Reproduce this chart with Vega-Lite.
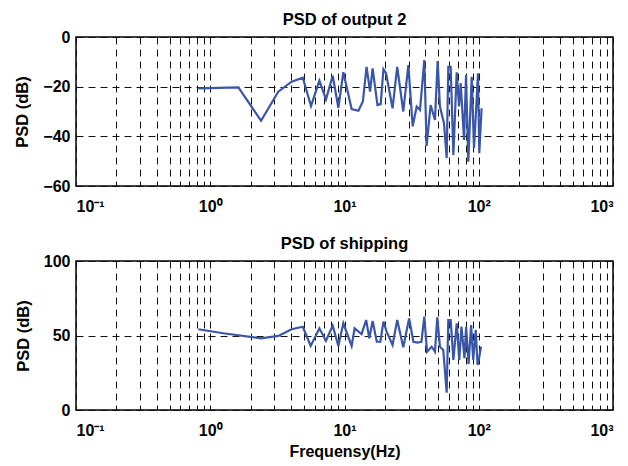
{
  "$schema": "https://vega.github.io/schema/vega-lite/v6.json",
  "padding": {"left": 14, "top": 10, "right": 5, "bottom": 5},
  "background": "white",
  "bounds": "flush",
  "spacing": 75,
  "config": {
    "font": "Liberation Sans",
    "view": {"stroke": "black", "strokeWidth": 1.5},
    "title": {"fontSize": 16.5, "fontWeight": "bold", "color": "black", "offset": 1},
    "axis": {
      "labelFont": "Liberation Sans", "labelFontWeight": "bold", "labelColor": "black",
      "titleFont": "Liberation Sans", "titleFontWeight": "bold", "titleColor": "black",
      "domain": false, "ticks": false,
      "grid": true, "gridColor": "#111", "gridDash": [7, 5], "gridWidth": 1, "gridOpacity": 1
    }
  },
  "datasets": {
    "out": [
      {"f": 0.815, "p": -20.7}, {"f": 1.62, "p": -20.3}, {"f": 2.39, "p": -33.7}, {"f": 3.21, "p": -22.0},
      {"f": 4.04, "p": -18.0}, {"f": 4.89, "p": -16.4}, {"f": 5.63, "p": -27.8}, {"f": 6.5, "p": -17.6},
      {"f": 7.28, "p": -25.1}, {"f": 8.17, "p": -15.6}, {"f": 9.0, "p": -28.5}, {"f": 9.8, "p": -14.2},
      {"f": 11.3, "p": -29.0}, {"f": 12.7, "p": -29.7}, {"f": 13.7, "p": -26}, {"f": 14.6, "p": -12},
      {"f": 15.5, "p": -22}, {"f": 16.2, "p": -12.6}, {"f": 17.6, "p": -27.4}, {"f": 18.6, "p": -27},
      {"f": 19.5, "p": -13}, {"f": 20.4, "p": -14.6}, {"f": 22.8, "p": -28.7}, {"f": 24.7, "p": -12},
      {"f": 27.4, "p": -30}, {"f": 29.9, "p": -11.3}, {"f": 32.2, "p": -36}, {"f": 34.5, "p": -28},
      {"f": 36.5, "p": -29.4}, {"f": 39.3, "p": -9.3}, {"f": 40.9, "p": -43.9}, {"f": 43.8, "p": -27.4},
      {"f": 47.2, "p": -33.4}, {"f": 49.4, "p": -9.7}, {"f": 51.4, "p": -28}, {"f": 55.1, "p": -34.8},
      {"f": 57.7, "p": -48.8}, {"f": 59.3, "p": -12}, {"f": 61.8, "p": -12}, {"f": 64.7, "p": -47.5},
      {"f": 68.5, "p": -14.2}, {"f": 71.3, "p": -28}, {"f": 73.4, "p": -18.6}, {"f": 77.7, "p": -41.5},
      {"f": 80.4, "p": -15.3}, {"f": 83.6, "p": -50.2}, {"f": 88.6, "p": -16}, {"f": 92.2, "p": -44.8},
      {"f": 95.5, "p": -29.4}, {"f": 98.7, "p": -14.6}, {"f": 100.9, "p": -46.8}, {"f": 105, "p": -28.7}
    ],
    "ship": [
      {"f": 0.815, "p": 54.2}, {"f": 1.25, "p": 51.5}, {"f": 2.39, "p": 48.1}, {"f": 3.21, "p": 49.7},
      {"f": 4.04, "p": 54.2}, {"f": 4.89, "p": 55.9}, {"f": 5.6, "p": 43}, {"f": 6.5, "p": 54.8},
      {"f": 7.28, "p": 46.5}, {"f": 8.17, "p": 56.6}, {"f": 9.0, "p": 43}, {"f": 9.8, "p": 58.2},
      {"f": 11.3, "p": 43}, {"f": 11.9, "p": 54.8}, {"f": 13.4, "p": 51}, {"f": 14.5, "p": 60.4},
      {"f": 15.3, "p": 48.1}, {"f": 16.2, "p": 59.7}, {"f": 17.4, "p": 45.8}, {"f": 18.5, "p": 45.8},
      {"f": 19.5, "p": 59.3}, {"f": 20.6, "p": 52.6}, {"f": 22.8, "p": 43.6}, {"f": 24.7, "p": 60.4},
      {"f": 27.4, "p": 42.1}, {"f": 30.3, "p": 61.5}, {"f": 32.6, "p": 45.8}, {"f": 35, "p": 45.2},
      {"f": 37.4, "p": 45.8}, {"f": 39.3, "p": 62.6}, {"f": 41.2, "p": 39.1}, {"f": 44.6, "p": 42.5},
      {"f": 47.2, "p": 39.1}, {"f": 49.1, "p": 62.2}, {"f": 51.4, "p": 42.5}, {"f": 54.4, "p": 40.3},
      {"f": 57.7, "p": 11.6}, {"f": 59.3, "p": 60.4}, {"f": 61.8, "p": 60.4}, {"f": 64.7, "p": 33.6},
      {"f": 68.5, "p": 58.2}, {"f": 71.6, "p": 33.6}, {"f": 74.3, "p": 55.9}, {"f": 78.3, "p": 34.7},
      {"f": 80.5, "p": 55.9}, {"f": 84, "p": 30.9}, {"f": 87.7, "p": 57}, {"f": 91, "p": 33.6},
      {"f": 95, "p": 53.7}, {"f": 98, "p": 30.2}, {"f": 101, "p": 35.8}, {"f": 104, "p": 42.5}
    ]
  },
  "vconcat": [
    {
      "title": "PSD of output 2",
      "width": 537, "height": 149,
      "data": {"name": "out"},
      "mark": {"type": "line", "color": "#3a56a8", "strokeWidth": 2.2, "clip": true},
      "encoding": {
        "x": {"field": "f", "type": "quantitative",
          "scale": {"type": "log", "domain": [0.1, 1000], "nice": false},
          "axis": {"title": null, "labelOverlap": false, "labelFontSize": 16, "labelPadding": 12,
            "values": [0.1,0.2,0.3,0.4,0.5,0.6,0.7,0.8,0.9,1,2,3,4,5,6,7,8,9,10,20,30,40,50,60,70,80,90,100,200,300,400,500,600,700,800,900,1000],
            "labelExpr": "datum.value==0.1?'10⁻¹':datum.value==1?'10⁰':datum.value==10?'10¹':datum.value==100?'10²':datum.value==1000?'10³':''"}},
        "y": {"field": "p", "type": "quantitative",
          "scale": {"domain": [-60, 0], "nice": false},
          "axis": {"title": "PSD (dB)", "titleFontSize": 16.5, "titlePadding": 12, "labelFontSize": 16, "labelPadding": 6,
            "values": [-60, -40, -20, 0]}}
      }
    },
    {
      "title": "PSD of shipping",
      "width": 537, "height": 149,
      "data": {"name": "ship"},
      "mark": {"type": "line", "color": "#3a56a8", "strokeWidth": 2.2, "clip": true},
      "encoding": {
        "x": {"field": "f", "type": "quantitative",
          "scale": {"type": "log", "domain": [0.1, 1000], "nice": false},
          "axis": {"title": "Frequensy(Hz)", "titleFontSize": 16, "titlePadding": 5, "labelOverlap": false, "labelFontSize": 16, "labelPadding": 12,
            "values": [0.1,0.2,0.3,0.4,0.5,0.6,0.7,0.8,0.9,1,2,3,4,5,6,7,8,9,10,20,30,40,50,60,70,80,90,100,200,300,400,500,600,700,800,900,1000],
            "labelExpr": "datum.value==0.1?'10⁻¹':datum.value==1?'10⁰':datum.value==10?'10¹':datum.value==100?'10²':datum.value==1000?'10³':''"}},
        "y": {"field": "p", "type": "quantitative",
          "scale": {"domain": [0, 100], "nice": false},
          "axis": {"title": "PSD (dB)", "titleFontSize": 16.5, "titlePadding": 12, "labelFontSize": 16, "labelPadding": 6,
            "values": [0, 50, 100]}}
      }
    }
  ]
}
